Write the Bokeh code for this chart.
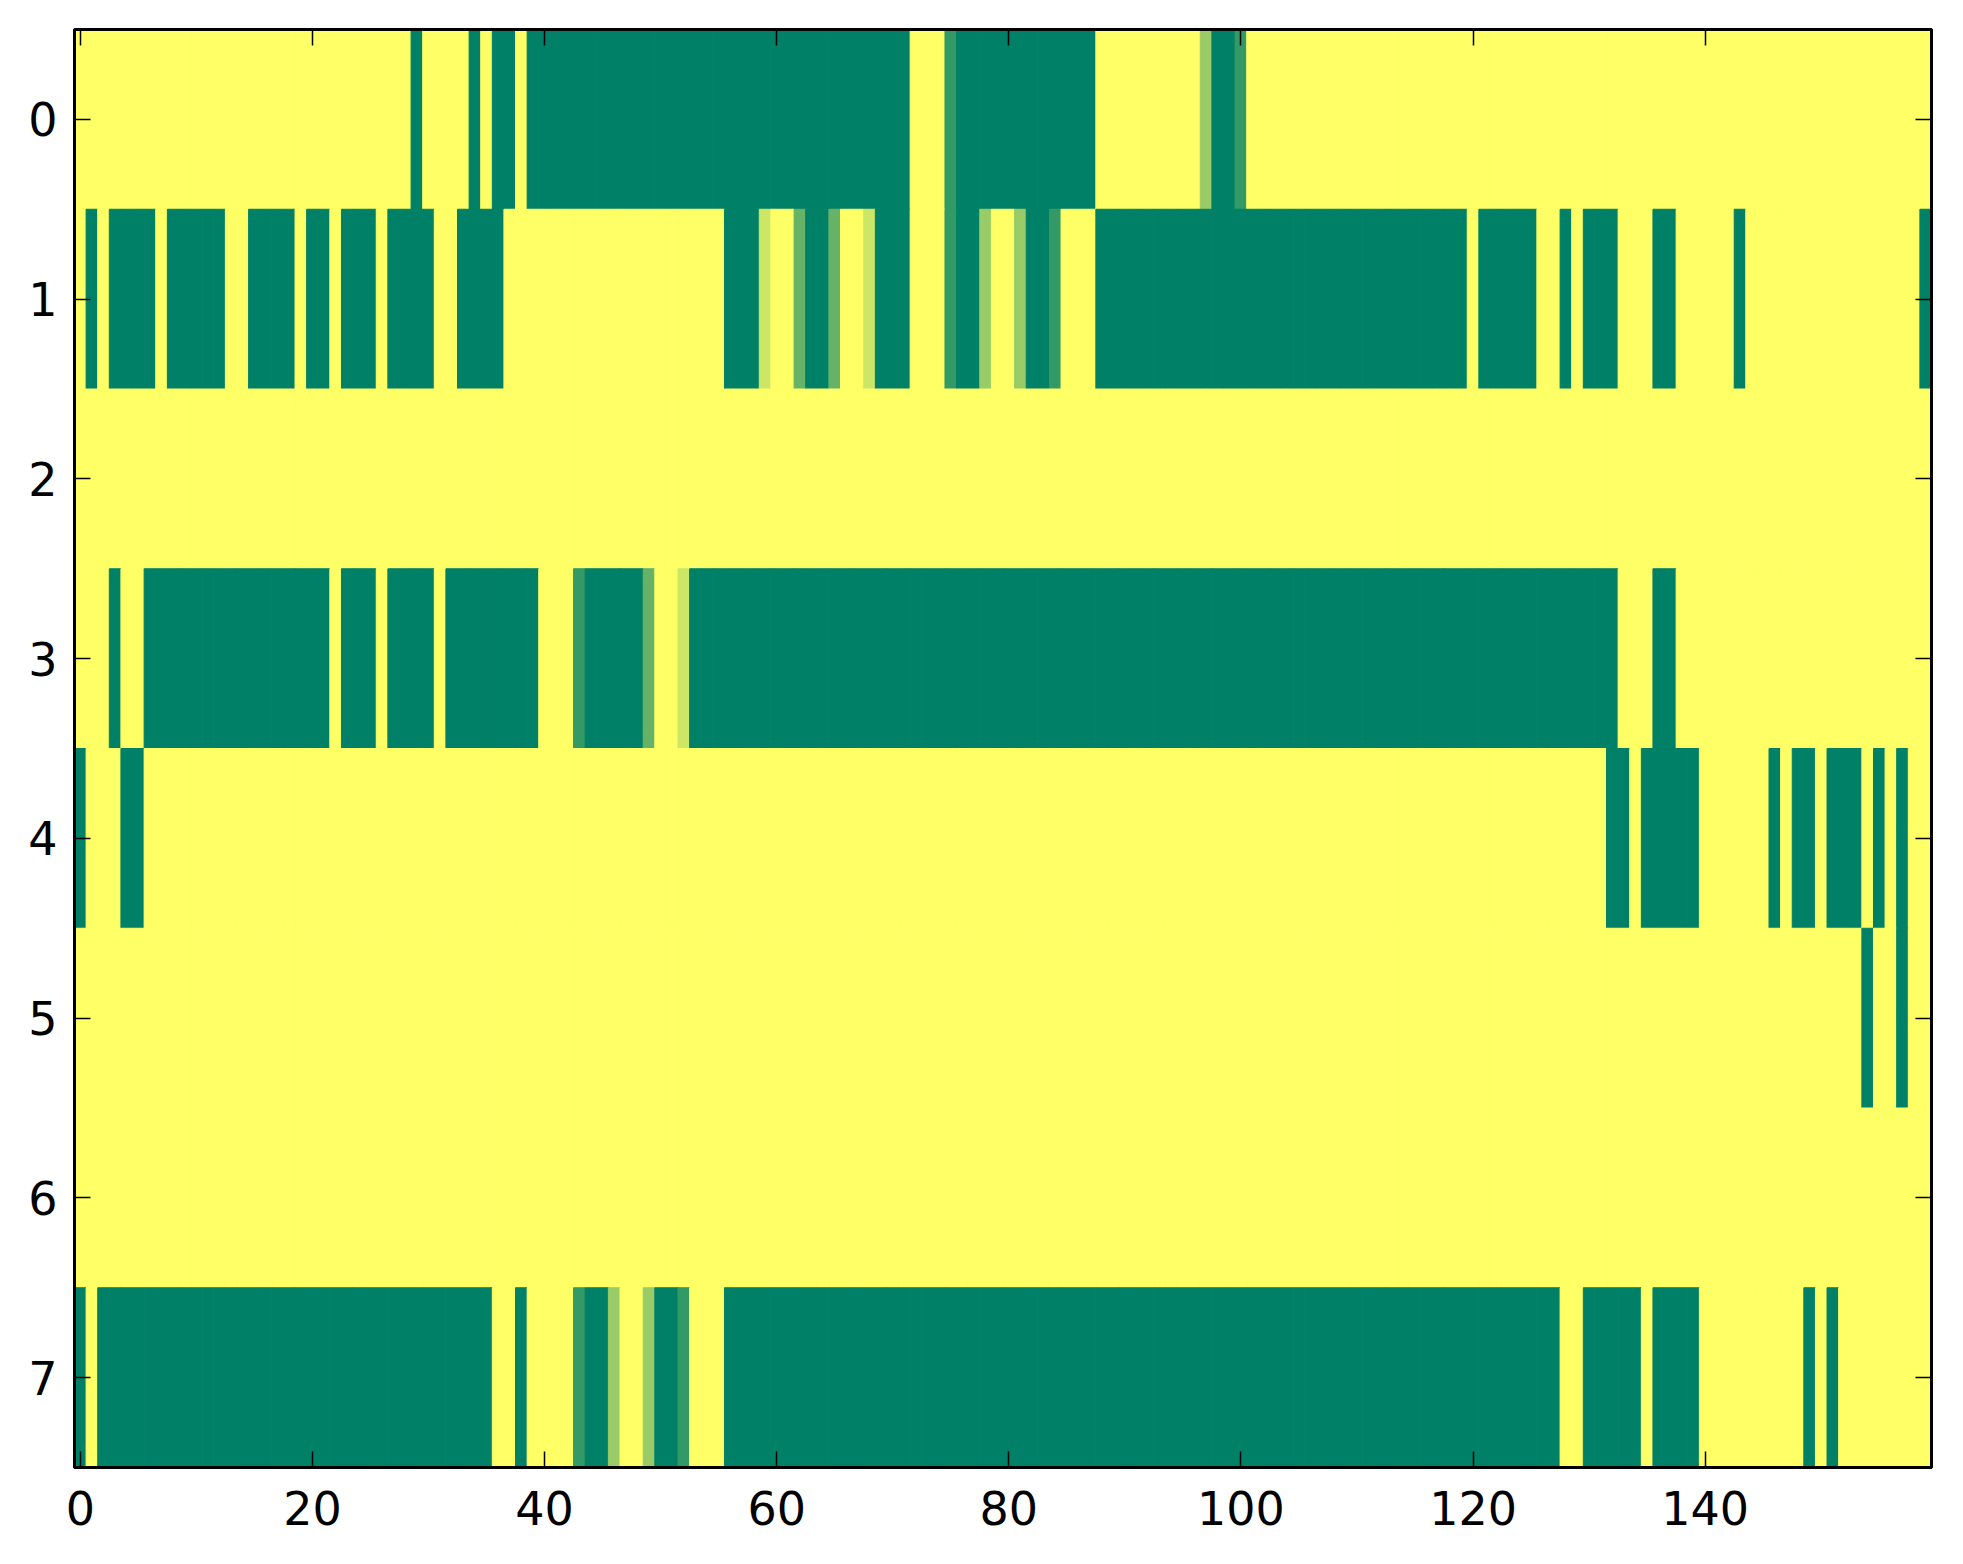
from bokeh.plotting import figure
from bokeh.models import (Range1d, FixedTicker, LinearAxis, LinearColorMapper, ColumnDataSource,
                          CustomLabelingPolicy)
from bokeh.transform import transform
from bokeh.embed import file_html
from bokeh.resources import INLINE

# Values, as (value, run length) along each row of 160 columns
row0_runs = [(1, 29), (0, 1), (1, 4), (0, 1), (1, 1), (0, 2), (1, 1), (0, 33), (1, 3), (0.2, 1),
             (0, 12), (1, 9), (0.6, 1), (0, 2), (0.2, 1), (1, 59)]
row1_runs = [(1, 1), (0, 1), (1, 1), (0, 4), (1, 1), (0, 5), (1, 2), (0, 4), (1, 1), (0, 2),
             (1, 1), (0, 3), (1, 1), (0, 4), (1, 2), (0, 4), (1, 19), (0, 3), (0.8, 1), (1, 2),
             (0.4, 1), (0, 2), (0.4, 1), (1, 2), (0.8, 1), (0, 3), (1, 3), (0.2, 1), (0, 2),
             (0.6, 1), (1, 2), (0.6, 1), (0, 2), (0.2, 1), (1, 3), (0, 32), (1, 1), (0, 5),
             (1, 2), (0, 1), (1, 1), (0, 3), (1, 3), (0, 2), (1, 5), (0, 1), (1, 15), (0, 1)]
row2_runs = [(1, 160)]
row3_runs = [(1, 3), (0, 1), (1, 2), (0, 16), (1, 1), (0, 3), (1, 1), (0, 4), (1, 1), (0, 8),
             (1, 3), (0.2, 1), (0, 5), (0.4, 1), (1, 2), (0.8, 1), (0, 80), (1, 3), (0, 2), (1, 22)]
row4_runs = [(0, 1), (1, 3), (0, 2), (1, 126), (0, 2), (1, 1), (0, 5), (1, 6), (0, 1), (1, 1),
             (0, 2), (1, 1), (0, 3), (1, 1), (0, 1), (1, 1), (0, 1), (1, 2)]
row5_runs = [(1, 154), (0, 1), (1, 2), (0, 1), (1, 2)]
row6_runs = [(1, 160)]
row7_runs = [(0, 1), (1, 1), (0, 34), (1, 2), (0, 1), (1, 4), (0.2, 1), (0, 2), (0.6, 1), (1, 2),
             (0.6, 1), (0, 2), (0.2, 1), (1, 3), (0, 72), (1, 2), (0, 5), (1, 1), (0, 4), (1, 9),
             (0, 1), (1, 1), (0, 1), (1, 8)]

rows = [row0_runs, row1_runs, row2_runs, row3_runs, row4_runs, row5_runs, row6_runs, row7_runs]

x_ticks = [0, 20, 40, 60, 80, 100, 120, 140]
y_ticks = [0, 1, 2, 3, 4, 5, 6, 7]

xs, ys, vs = [], [], []
for r, runs in enumerate(rows):
    c = 0
    for val, n in runs:
        for _ in range(n):
            xs.append(c)
            ys.append(r)
            vs.append(val)
            c += 1

src = ColumnDataSource(dict(x=xs, y=ys, v=vs))

# matplotlib "summer" colormap
summer = []
for i in range(256):
    t = i / 255.0
    rr = int(round(255 * t))
    gg = int(round(255 * (0.5 + 0.5 * t)))
    bb = int(round(255 * 0.4))
    summer.append("#%02x%02x%02x" % (rr, gg, bb))
mapper = LinearColorMapper(palette=summer, low=0, high=1)

FONT = "DejaVu Sans"
FS = "46px"

p = figure(width=1947, height=1548, frame_width=1857, frame_height=1438,
           x_range=Range1d(-0.5, 159.5), y_range=Range1d(7.5, -0.5),
           output_backend="svg", toolbar_location=None,
           min_border_left=74, min_border_right=16, min_border_top=29, min_border_bottom=81,
           background_fill_color="white", border_fill_color="white")

p.rect(x="x", y="y", width=1, height=1, source=src,
       fill_color=transform("v", mapper), line_color=transform("v", mapper), line_width=1)

p.xgrid.visible = False
p.ygrid.visible = False
p.outline_line_color = "black"
p.outline_line_width = 3


def style(ax, ticks, show_labels):
    ax.ticker = FixedTicker(ticks=ticks)
    ax.axis_line_color = "black"
    ax.axis_line_width = 3
    ax.major_tick_in = 16
    ax.major_tick_out = 0
    ax.major_tick_line_width = 1.5
    ax.major_tick_line_color = "black"
    ax.minor_tick_line_color = None
    ax.major_label_text_font = FONT
    ax.major_label_text_color = "black"
    if show_labels:
        ax.major_label_text_font_size = FS
    else:
        ax.major_label_text_font_size = "1px"
        ax.major_label_standoff = 0
        ax.major_label_policy = CustomLabelingPolicy(
            code="for (const i of indices) { if (false) { yield i } }")


style(p.xaxis[0], x_ticks, True)
style(p.yaxis[0], y_ticks, True)
p.xaxis[0].major_label_standoff = 23
p.yaxis[0].major_label_standoff = 17

top_ax = LinearAxis()
style(top_ax, x_ticks, False)
p.add_layout(top_ax, "above")
right_ax = LinearAxis()
style(right_ax, y_ticks, False)
p.add_layout(right_ax, "right")

open("out.html", "w").write(file_html(p, INLINE))
